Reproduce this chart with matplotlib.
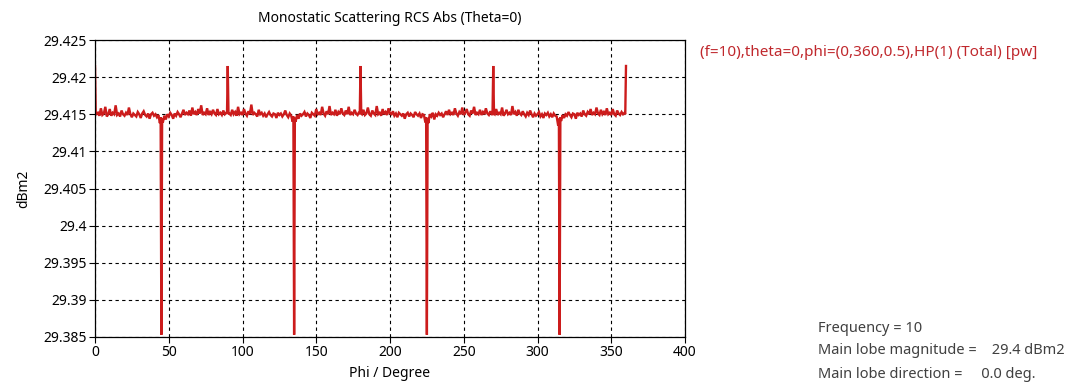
import numpy as np
import matplotlib
matplotlib.use("Agg")
import matplotlib.pyplot as plt

# Phi in degrees (1-degree sampling)
phi = list(range(0, 361))

rcs_0_89 = [
    29.4215, 29.4150, 29.4152, 29.4148, 29.4158, 29.4149, 29.4151, 29.4160, 29.4147, 29.4150,
    29.4157, 29.4148, 29.4152, 29.4150, 29.4162, 29.4149, 29.4151, 29.4147, 29.4155, 29.4150,
    29.4148, 29.4152, 29.4149, 29.4159, 29.4150, 29.4146, 29.4151, 29.4149, 29.4147, 29.4153,
    29.4150, 29.4145, 29.4151, 29.4154, 29.4149, 29.4147, 29.4151, 29.4144, 29.4150, 29.4152,
    29.4148, 29.4150, 29.4146, 29.4149, 29.4138, 29.3853, 29.4139, 29.4148, 29.4143, 29.4150,
    29.4147, 29.4152, 29.4149, 29.4144, 29.4151, 29.4148, 29.4153, 29.4150, 29.4146, 29.4151,
    29.4156, 29.4149, 29.4152, 29.4150, 29.4155, 29.4148, 29.4159, 29.4150, 29.4153, 29.4149,
    29.4157, 29.4151, 29.4162, 29.4149, 29.4152, 29.4150, 29.4158, 29.4149, 29.4153, 29.4150,
    29.4156, 29.4151, 29.4149, 29.4157, 29.4150, 29.4152, 29.4149, 29.4155, 29.4150, 29.4152,
]
rcs_90_179 = [
    29.4215, 29.4151, 29.4149, 29.4156, 29.4150, 29.4153, 29.4148, 29.4160, 29.4150, 29.4152,
    29.4149, 29.4157, 29.4151, 29.4148, 29.4154, 29.4150, 29.4163, 29.4149, 29.4152, 29.4150,
    29.4147, 29.4156, 29.4150, 29.4152, 29.4148, 29.4151, 29.4146, 29.4150, 29.4153, 29.4149,
    29.4147, 29.4151, 29.4150, 29.4145, 29.4152, 29.4149, 29.4151, 29.4147, 29.4150, 29.4155,
    29.4149, 29.4146, 29.4151, 29.4148, 29.4140, 29.3853, 29.4140, 29.4149, 29.4144, 29.4151,
    29.4148, 29.4150, 29.4153, 29.4147, 29.4151, 29.4149, 29.4145, 29.4152, 29.4150, 29.4148,
    29.4157, 29.4150, 29.4152, 29.4149, 29.4160, 29.4151, 29.4148, 29.4154, 29.4150, 29.4161,
    29.4149, 29.4152, 29.4150, 29.4156, 29.4148, 29.4153, 29.4150, 29.4158, 29.4151, 29.4149,
    29.4155, 29.4150, 29.4160, 29.4149, 29.4152, 29.4150, 29.4156, 29.4151, 29.4149, 29.4153,
]
rcs_180_269 = [
    29.4215, 29.4150, 29.4156, 29.4149, 29.4151, 29.4159, 29.4150, 29.4148, 29.4155, 29.4151,
    29.4149, 29.4161, 29.4150, 29.4152, 29.4148, 29.4157, 29.4150, 29.4153, 29.4149, 29.4158,
    29.4151, 29.4150, 29.4154, 29.4148, 29.4151, 29.4146, 29.4152, 29.4150, 29.4148, 29.4151,
    29.4144, 29.4150, 29.4152, 29.4147, 29.4151, 29.4149, 29.4146, 29.4153, 29.4150, 29.4148,
    29.4151, 29.4145, 29.4150, 29.4149, 29.4139, 29.3853, 29.4138, 29.4150, 29.4147, 29.4152,
    29.4143, 29.4150, 29.4148, 29.4152, 29.4149, 29.4151, 29.4146, 29.4150, 29.4154, 29.4149,
    29.4156, 29.4150, 29.4152, 29.4149, 29.4158, 29.4151, 29.4148, 29.4153, 29.4150, 29.4159,
    29.4149, 29.4152, 29.4157, 29.4150, 29.4148, 29.4155, 29.4151, 29.4160, 29.4149, 29.4152,
    29.4150, 29.4156, 29.4149, 29.4153, 29.4150, 29.4158, 29.4151, 29.4149, 29.4154, 29.4150,
]
rcs_270_360 = [
    29.4215, 29.4150, 29.4157, 29.4149, 29.4152, 29.4150, 29.4159, 29.4148, 29.4151, 29.4156,
    29.4150, 29.4152, 29.4149, 29.4161, 29.4150, 29.4153, 29.4148, 29.4156, 29.4151, 29.4149,
    29.4154, 29.4150, 29.4147, 29.4152, 29.4149, 29.4155, 29.4150, 29.4146, 29.4151, 29.4148,
    29.4150, 29.4153, 29.4147, 29.4150, 29.4145, 29.4151, 29.4149, 29.4152, 29.4147, 29.4150,
    29.4146, 29.4151, 29.4148, 29.4147, 29.4135, 29.3853, 29.4141, 29.4149, 29.4145, 29.4150,
    29.4148, 29.4153, 29.4149, 29.4146, 29.4151, 29.4150, 29.4144, 29.4152, 29.4149, 29.4151,
    29.4147, 29.4155, 29.4150, 29.4148, 29.4153, 29.4150, 29.4157, 29.4149, 29.4152, 29.4150,
    29.4159, 29.4151, 29.4149, 29.4156, 29.4150, 29.4153, 29.4149, 29.4158, 29.4150, 29.4152,
    29.4149, 29.4157, 29.4150, 29.4148, 29.4155, 29.4151, 29.4149, 29.4153, 29.4150, 29.4152,
    29.4215,
]
rcs = rcs_0_89 + rcs_90_179 + rcs_180_269 + rcs_270_360

# Half-degree samples next to the sharp peaks and nulls (0.5-degree sweep)
half_phi = [0.5, 44.5, 45.5, 89.5, 90.5, 134.5, 135.5, 179.5, 180.5,
            224.5, 225.5, 269.5, 270.5, 314.5, 315.5, 359.5]
half_rcs = [29.4150, 29.4146, 29.4144, 29.4151, 29.4150, 29.4147, 29.4145, 29.4150, 29.4151,
            29.4146, 29.4145, 29.4150, 29.4151, 29.4144, 29.4146, 29.4150]

xticks = [0, 50, 100, 150, 200, 250, 300, 350, 400]
yticks = [29.385, 29.39, 29.395, 29.4, 29.405, 29.41, 29.415, 29.42, 29.425]
ytick_labels = ["29.385", "29.39", "29.395", "29.4", "29.405", "29.41", "29.415", "29.42", "29.425"]

title = "Monostatic Scattering RCS Abs (Theta=0)"
legend_text = "(f=10),theta=0,phi=(0,360,0.5),HP(1) (Total) [pw]"
info_lines = ["Frequency = 10", "Main lobe magnitude =    29.4 dBm2", "Main lobe direction =     0.0 deg."]

# merge the sweep in phi order
all_phi = np.array(phi + half_phi, dtype=float)
all_rcs = np.array(rcs + half_rcs, dtype=float)
order = np.argsort(all_phi, kind='stable')
all_phi = all_phi[order]
all_rcs = all_rcs[order]

plt.rcParams['font.family'] = ['Noto Sans', 'DejaVu Sans']

W, H = 1069, 392
fig = plt.figure(figsize=(W / 100, H / 100), dpi=100)
fig.patch.set_facecolor('white')
ax = fig.add_axes([95 / W, 1 - 337 / H, (685 - 95) / W, (337 - 40) / H])

ax.plot(all_phi, all_rcs, color='#cc1c1c', lw=1.7, solid_joinstyle='miter')

ax.set_xlim(0, 400)
ax.set_ylim(29.385, 29.425)
ax.set_xticks(xticks)
ax.set_yticks(yticks)
ax.set_yticklabels(ytick_labels)
ax.tick_params(direction='out', length=4, width=0.8, labelsize=10, colors='black', pad=2)
ax.grid(True, color='black', linestyle=(0, (3, 3)), linewidth=0.8)
for s in ax.spines.values():
    s.set_linewidth(0.9)
    s.set_color('black')

ax.set_xlabel("Phi / Degree", fontsize=10, labelpad=4)
ax.set_ylabel("dBm2", fontsize=10, labelpad=9)
ax.set_title(title, fontsize=10, pad=13)

fig.text(700 / W, 1 - 52 / H, legend_text, color='#c0282d', fontsize=11, va='center', ha='left')
for i, t in enumerate(info_lines):
    fig.text(818 / W, 1 - (328 + i * 23) / H, t, color='#404040', fontsize=10.5, va='center', ha='left')

fig.savefig("out.png", dpi=100)
